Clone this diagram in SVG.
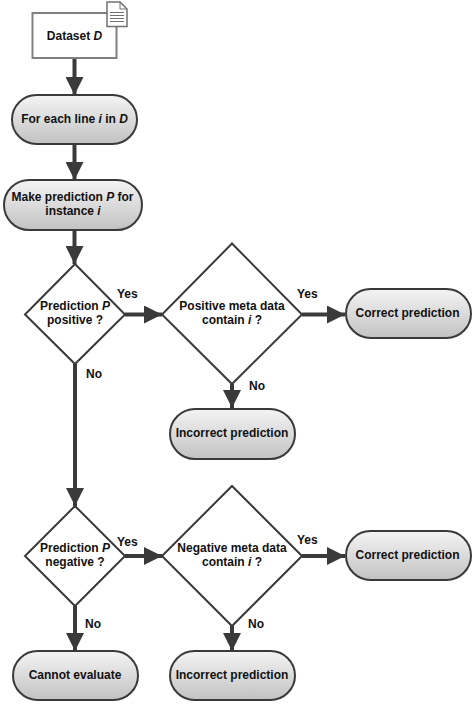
<svg xmlns="http://www.w3.org/2000/svg" width="474" height="707" viewBox="0 0 474 707">
<style>
.pill{fill:url(#g);stroke:#3a3a3a;stroke-width:2}
.dia{fill:#fff;stroke:#3a3a3a;stroke-width:2}
.conn{fill:none;stroke:#3a3a3a;stroke-width:4;marker-end:url(#a)}
text{font-family:"Liberation Sans",Arial,sans-serif;font-size:12px;font-weight:bold;fill:#111;text-anchor:middle}
.lab{text-anchor:start}
</style>
<defs>
<linearGradient id="g" x1="0" y1="0" x2="0" y2="1"><stop offset="0" stop-color="#f4f4f4"/><stop offset="1" stop-color="#c2c2c2"/></linearGradient>
<marker id="a" markerUnits="userSpaceOnUse" markerWidth="18" markerHeight="18" refX="18" refY="9" orient="auto"><path d="M0 0L18 9L0 18Z" fill="#3a3a3a"/></marker>
</defs>
<g id="connectors">
<path class="conn" d="M74.500 59V95"/>
<path class="conn" d="M74.500 145V180"/>
<path class="conn" d="M74.500 231V264"/>
<path class="conn" d="M125 314.500H162"/>
<path class="conn" d="M302 314.500H345"/>
<path class="conn" d="M232 384V408"/>
<path class="conn" d="M75 364V506"/>
<path class="conn" d="M125 556H162"/>
<path class="conn" d="M302 556H345"/>
<path class="conn" d="M232 626V651"/>
<path class="conn" d="M75 606V651"/>
</g>
<g id="dataset">
<rect x="32.500" y="13" width="84" height="45" fill="#fff" stroke="#808080" stroke-width="2"/>
<path d="M107 2H120L127 9V26.500H107Z" fill="#fff" stroke="#707070" stroke-width="1.500"/>
<path d="M120 2V9H127M110 12.500H124M110 15.500H124M110 18.500H124M110 21.500H124" fill="none" stroke="#707070" stroke-width="1"/>
<text x="74.500" y="40">Dataset <tspan font-style="italic">D</tspan></text>
</g>
<g id="foreach"><rect class="pill" x="12" y="95" width="125" height="49" rx="24.500"/><text x="74.500" y="123">For each line <tspan font-style="italic">i</tspan> in <tspan font-style="italic">D</tspan></text></g>
<g id="make"><rect class="pill" x="4" y="180" width="138" height="50" rx="25"/><text x="72.500" y="201">Make prediction <tspan font-style="italic">P</tspan> for</text><text x="73" y="215">instance <tspan font-style="italic">i</tspan></text></g>
<g id="pos"><path class="dia" d="M75 264L125 314.500L75 364L25 314.500Z"/><text x="75" y="310">Prediction <tspan font-style="italic">P</tspan></text><text x="75" y="324">positive ?</text></g>
<g id="posmeta"><path class="dia" d="M232 243.500L302 314.500L232 384L162 314.500Z"/><text x="232" y="310">Positive meta data</text><text x="232" y="324">contain <tspan font-style="italic">i</tspan> ?</text></g>
<g id="correct1"><rect class="pill" x="346" y="289" width="125" height="49" rx="24.500"/><text x="407.500" y="317">Correct prediction</text></g>
<g id="incorrect1"><rect class="pill" x="170" y="409" width="125" height="50" rx="25"/><text x="232" y="437">Incorrect prediction</text></g>
<g id="neg"><path class="dia" d="M75 506L125 556L75 606L25 556Z"/><text x="75" y="552">Prediction <tspan font-style="italic">P</tspan></text><text x="75" y="566">negative ?</text></g>
<g id="negmeta"><path class="dia" d="M232 486L302 556L232 626L162 556Z"/><text x="232" y="552">Negative meta data</text><text x="232" y="566">contain <tspan font-style="italic">i</tspan> ?</text></g>
<g id="correct2"><rect class="pill" x="346" y="531" width="125" height="49" rx="24.500"/><text x="407.500" y="559">Correct prediction</text></g>
<g id="incorrect2"><rect class="pill" x="170" y="651" width="125" height="49" rx="24.500"/><text x="232" y="679">Incorrect prediction</text></g>
<g id="cannot"><rect class="pill" x="13" y="651" width="125" height="49" rx="24.500"/><text x="75" y="679">Cannot evaluate</text></g>
<g id="labels">
<text class="lab" x="117" y="298">Yes</text>
<text class="lab" x="86" y="378">No</text>
<text class="lab" x="297" y="298">Yes</text>
<text class="lab" x="249" y="390">No</text>
<text class="lab" x="117" y="546">Yes</text>
<text class="lab" x="85" y="628">No</text>
<text class="lab" x="297" y="544">Yes</text>
<text class="lab" x="248" y="628">No</text>
</g>
</svg>
